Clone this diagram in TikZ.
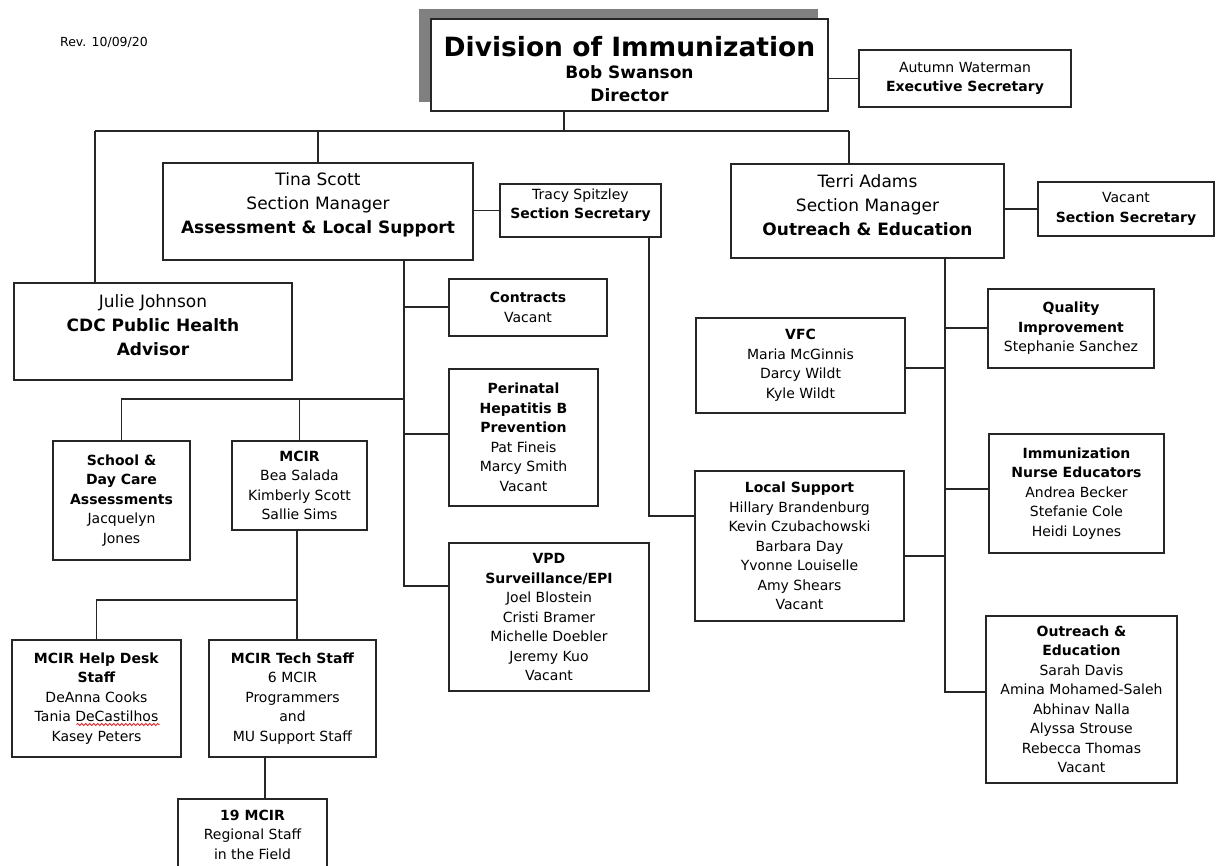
\documentclass[tikz,border=0pt]{standalone}
\usepackage{fontspec}
\setmainfont{DejaVu Sans}
\usetikzlibrary{calc, decorations.pathmorphing}
\definecolor{cline}{HTML}{262626}
\definecolor{cshadow}{HTML}{808080}
\definecolor{cspell}{HTML}{E02020}
\tikzset{
  every picture/.style={line width=1.2pt},
  box/.style={draw=cline, fill=white, align=center, inner sep=0pt, font=\fontsize{14}{19.5}\selectfont},
  bigbox/.style={box, font=\fontsize{17}{24}\selectfont},
  link/.style={draw=cline, line width=1.2pt},
  spellwave/.style={draw=cspell, line width=0.8pt, decorate, decoration={snake, amplitude=1pt, segment length=4pt}},
}

\begin{document}
\begin{tikzpicture}[x=1pt, y=-1pt]
  \useasboundingbox (0,0) rectangle (1224,866);
  \clip (0,0) rectangle (1224,866);
  \node[font=\fontsize{12.5}{15}\selectfont] (rev) at (104,42) {Rev. 10/09/20};
  % director
  \fill[cshadow] (419,9) rectangle (818,102);
  \node[box, font=\fontsize{17}{23}\selectfont, minimum width=397pt, minimum height=92pt] (dir) at (629.5,65) {{\fontsize{26.5}{30}\selectfont\rule{0pt}{28pt}\textbf{Division of Immunization}}\\[-1pt] \textbf{Bob Swanson}\\ \textbf{Director}};
  \node[box, minimum width=212pt, minimum height=57pt] (exec) at (965,78.5) {Autumn Waterman\\ \textbf{Executive Secretary}};
  % section managers
  \node[bigbox, minimum width=310pt, minimum height=97pt] (tina) at (318,211.5) {Tina Scott\\ Section Manager\\ \textbf{Assessment \& Local Support}\\[-8pt]\mbox{}};
  \node[box, minimum width=161pt, minimum height=53pt] (tracy) at (580.5,210.5) {Tracy Spitzley\\ \textbf{Section Secretary}\\[-6pt]\mbox{}};
  \node[bigbox, minimum width=273pt, minimum height=94pt] (terri) at (867.5,211) {Terri Adams\\ Section Manager\\ \textbf{Outreach \& Education}\\[-12pt]\mbox{}};
  \node[box, minimum width=176pt, minimum height=54pt] (vacsec) at (1126,209) {Vacant\\ \textbf{Section Secretary}};
  \node[bigbox, minimum width=278pt, minimum height=97pt] (julie) at (153,331.5) {Julie Johnson\\ \textbf{CDC Public Health}\\ \textbf{Advisor}\\[-12pt]\mbox{}};
  % assessment & local support
  \node[box, minimum width=158pt, minimum height=57pt] (contracts) at (528,307.5) {\textbf{Contracts}\\ Vacant};
  \node[box, minimum width=149pt, minimum height=137pt] (perinatal) at (523.5,437.5) {\textbf{Perinatal}\\ \textbf{Hepatitis B}\\ \textbf{Prevention}\\ Pat Fineis\\ Marcy Smith\\ Vacant};
  \node[box, minimum width=200pt, minimum height=148pt] (vpd) at (549,617) {\textbf{VPD}\\ \textbf{Surveillance/EPI}\\ Joel Blostein\\ Cristi Bramer\\ Michelle Doebler\\ Jeremy Kuo\\ Vacant};
  \node[box, minimum width=137pt, minimum height=119pt] (school) at (121.5,500.5) {\textbf{School \&}\\ \textbf{Day Care}\\ \textbf{Assessments}\\ Jacquelyn\\ Jones};
  \node[box, minimum width=135pt, minimum height=89pt] (mcir) at (299.5,485.5) {\textbf{MCIR}\\ Bea Salada\\ Kimberly Scott\\ Sallie Sims};
  \node[box, minimum width=169pt, minimum height=117pt] (helpdesk) at (96.5,698.5) {\textbf{MCIR Help Desk}\\ \textbf{Staff}\\ DeAnna Cooks\\ Tania DeCastilhos\\ Kasey Peters};
  \draw[spellwave] ($(helpdesk.center)+(-20,26)$) -- ($(helpdesk.center)+(63,26)$);
  \node[box, minimum width=167pt, minimum height=117pt] (tech) at (292.5,698.5) {\textbf{MCIR Tech Staff}\\ 6 MCIR\\ Programmers\\ and\\ MU Support Staff};
  \node[box, minimum width=149pt, minimum height=71pt] (field) at (252.5,834.5) {\textbf{19 MCIR}\\ Regional Staff\\ in the Field};
  % outreach & education
  \node[box, minimum width=209pt, minimum height=150pt] (locsup) at (799.5,546) {\textbf{Local Support}\\ Hillary Brandenburg\\ Kevin Czubachowski\\ Barbara Day\\ Yvonne Louiselle\\ Amy Shears\\ Vacant};
  \node[box, minimum width=209pt, minimum height=95pt] (vfc) at (800.5,365.5) {\textbf{VFC}\\ Maria McGinnis\\ Darcy Wildt\\ Kyle Wildt};
  \node[box, minimum width=166pt, minimum height=79pt] (quality) at (1071,328.5) {\textbf{Quality}\\ \textbf{Improvement}\\ Stephanie Sanchez};
  \node[box, minimum width=175pt, minimum height=119pt] (nurse) at (1076.5,493.5) {\textbf{Immunization}\\ \textbf{Nurse Educators}\\ Andrea Becker\\ Stefanie Cole\\ Heidi Loynes};
  \node[box, minimum width=191pt, minimum height=167pt] (outreach) at (1081.5,699.5) {\textbf{Outreach \&}\\ \textbf{Education}\\ Sarah Davis\\ Amina Mohamed-Saleh\\ Abhinav Nalla\\ Alyssa Strouse\\ Rebecca Thomas\\ Vacant};
  % top level lines
  \coordinate (busL) at (95,131);
  \coordinate (busR) at (849,131);
  \coordinate (dirdrop) at (564,131);
  \draw[link] (busL) -- (busR);
  \draw[link] (dir.south -| dirdrop) -- (dirdrop);
  \draw[link] (busL) -- (julie.north -| busL);
  \draw[link] (busR) -- (terri.north -| busR);
  \draw[link] (tina.north) -- (tina.north |- busL);
  \draw[link] (exec.west) -- (exec.west -| dir.east);
  \draw[link] (tracy.west) -- (tracy.west -| tina.east);
  \draw[link] (vacsec.west) -- (vacsec.west -| terri.east);
  % assessment spine
  \coordinate (tbC) at (404,307);
  \coordinate (tbS) at (404,399);
  \coordinate (tbP) at (404,434);
  \coordinate (tbV) at (404,586);
  \draw[link] (tina.south -| tbV) -- (tbV) -- (tbV -| vpd.west);
  \draw[link] (tbC) -- (tbC -| contracts.west);
  \draw[link] (tbP) -- (tbP -| perinatal.west);
  \draw[link] (tbS) -| (school.north);
  \draw[link] (mcir.north) -- (mcir.north |- tbS);
  \coordinate (mb) at (297,600);
  \draw[link] (mcir.south -| mb) -- (tech.north -| mb);
  \draw[link] (mb) -| (helpdesk.north);
  \coordinate (fld) at (265,780);
  \draw[link] (tech.south -| fld) -- (field.north -| fld);
  \coordinate (trb) at (649,516);
  \draw[link] (tracy.south -| trb) -- (trb) -- (trb -| locsup.west);
  % outreach spine
  \coordinate (oQ) at (945,328);
  \coordinate (oV) at (945,368);
  \coordinate (oN) at (945,489);
  \coordinate (oL) at (945,556);
  \coordinate (oO) at (945,692);
  \draw[link] (terri.south -| oO) -- (oO) -- (oO -| outreach.west);
  \draw[link] (oQ) -- (oQ -| quality.west);
  \draw[link] (oV) -- (oV -| vfc.east);
  \draw[link] (oN) -- (oN -| nurse.west);
  \draw[link] (oL) -- (oL -| locsup.east);
\end{tikzpicture}
\end{document}
